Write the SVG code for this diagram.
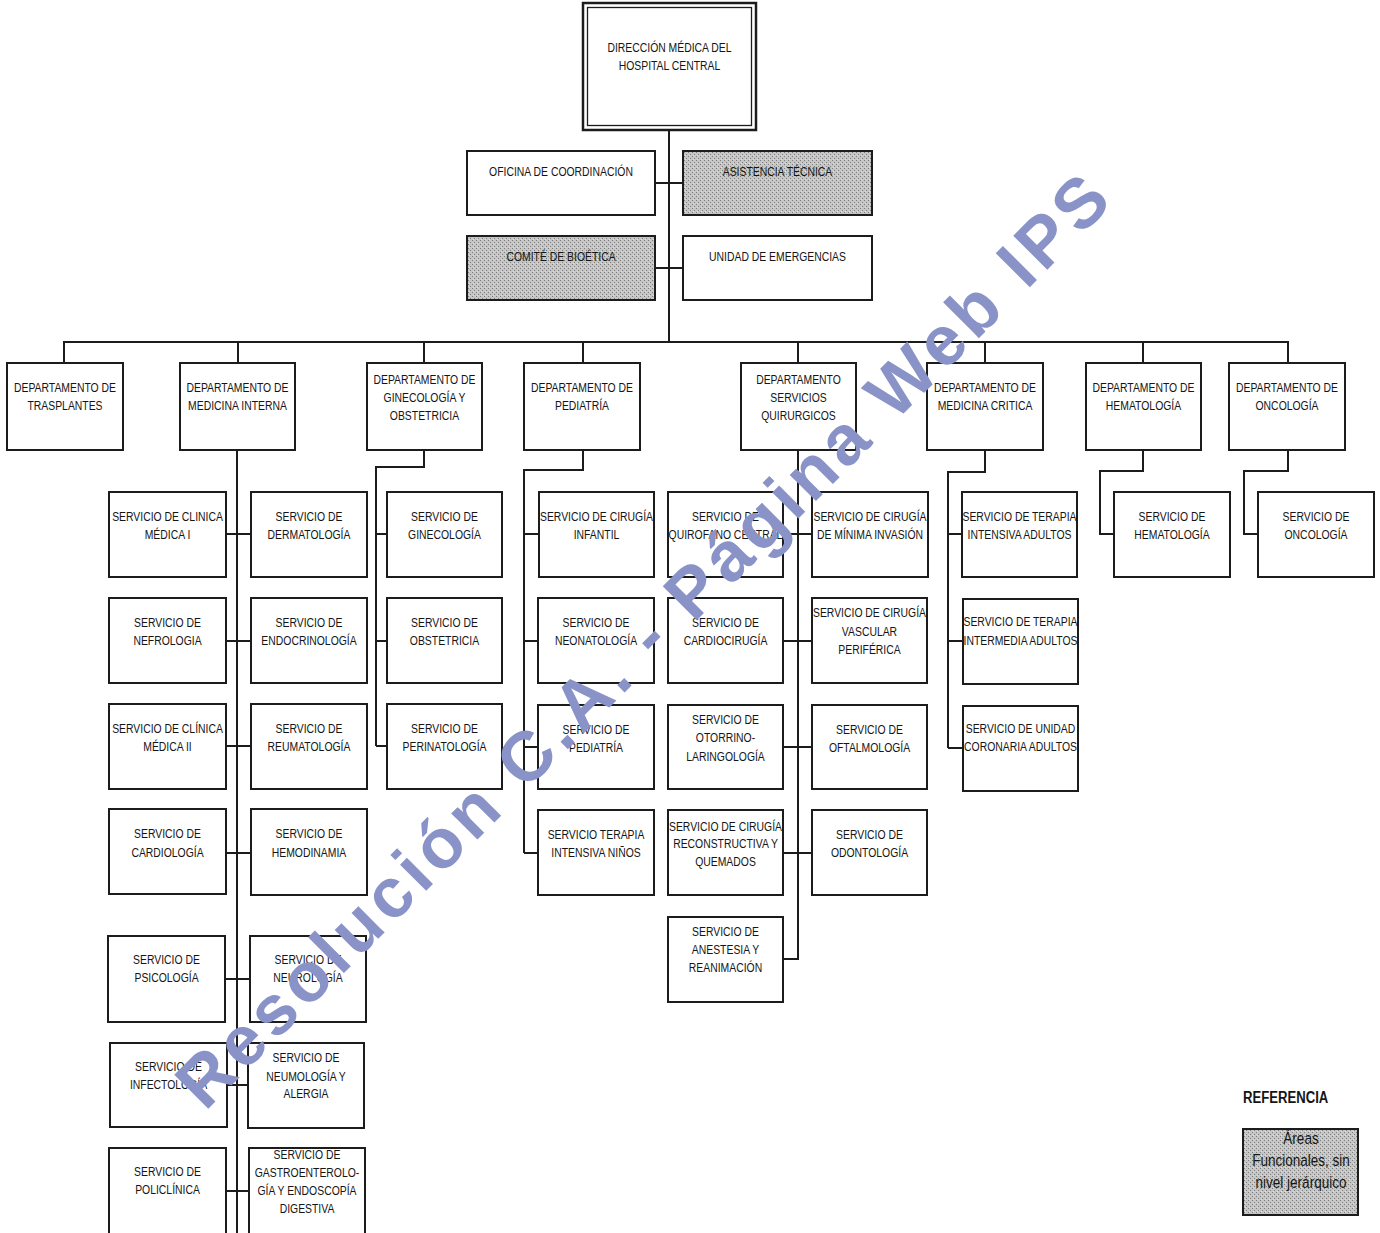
<svg xmlns="http://www.w3.org/2000/svg" width="1380" height="1233" viewBox="0 0 1380 1233">
<defs>
<pattern id="dots" patternUnits="userSpaceOnUse" width="4" height="4">
<rect width="4" height="4" fill="#c6c6c6"/>
<rect x="0" y="0" width="1" height="1" fill="#7c7c7c"/>
<rect x="2" y="2" width="1" height="1" fill="#7c7c7c"/>
<rect x="1" y="3" width="1" height="1" fill="#e0e0e0"/>
</pattern>
<style>
.b{fill:#fff;stroke:#1c1c1c;stroke-width:2}
.s{fill:url(#dots);stroke:#1c1c1c;stroke-width:2}
text{font-family:"Liberation Sans",Arial,sans-serif;font-size:13px;text-anchor:middle;fill:#151515}
.ln{fill:none;stroke:#1c1c1c;stroke-width:2}
.wm{font-weight:bold;font-size:70px;fill:#8a93c8;text-anchor:start}
.r{font-size:16.5px}
</style>
</defs>
<rect width="1380" height="1233" fill="#fff"/>

<g id="connectors">
<path class="ln" d="M669 130V342M655 183H683M655 268H683"/>
<path class="ln" d="M64 363V342H1288V363M238 342V363M424 342V363M583 342V363M798 342V363M985 342V363M1143 342V363"/>
<path class="ln" d="M237 450V1233M226 534H251M226 641H251M226 746H251M226 853H251M225 979H250M227 1085H248M226 1191H249"/>
<path class="ln" d="M424 450V467H376V746M376 534H387M376 641H387M376 746H387"/>
<path class="ln" d="M583 450V470H524V853M524 534H538M524 641H538M524 747H538M524 853H538"/>
<path class="ln" d="M798 450V959H783M783 534H812M783 641H812M783 747H812M783 853H812"/>
<path class="ln" d="M985 450V472H948V748M948 534H962M948 641H963M948 748H963"/>
<path class="ln" d="M1143 450V471H1100V534H1114"/>
<path class="ln" d="M1288 450V471H1244V534H1258"/>
</g>

<g id="direccion">
<rect x="583" y="3" width="173" height="127" fill="#fff" stroke="#1c1c1c" stroke-width="2.5"/>
<rect x="587.5" y="7.5" width="164" height="118" fill="none" stroke="#1c1c1c" stroke-width="1.3"/>
<g transform="translate(669.5 0) scale(0.8 1)"><text y="52.5">DIRECCIÓN MÉDICA DEL</text><text y="70.5">HOSPITAL CENTRAL</text></g>
</g>
<g id="oficina"><rect class="b" x="467" y="151" width="188" height="64"/><g transform="translate(561 0) scale(0.8 1)"><text y="176.5">OFICINA DE COORDINACIÓN</text></g></g>
<g id="asistencia"><rect class="s" x="683" y="151" width="189" height="64"/><g transform="translate(777.5 0) scale(0.8 1)"><text y="176.5">ASISTENCIA TÉCNICA</text></g></g>
<g id="bioetica"><rect class="s" x="467" y="236" width="188" height="64"/><g transform="translate(561 0) scale(0.8 1)"><text y="261.5">COMITÉ DE BIOÉTICA</text></g></g>
<g id="emergencias"><rect class="b" x="683" y="236" width="189" height="64"/><g transform="translate(777.5 0) scale(0.8 1)"><text y="261.5">UNIDAD DE EMERGENCIAS</text></g></g>

<g id="dep-trasplantes"><rect class="b" x="7" y="363" width="116" height="87"/><g transform="translate(65 0) scale(0.8 1)"><text y="392.5">DEPARTAMENTO DE</text><text y="410.5">TRASPLANTES</text></g></g>
<g id="dep-medint"><rect class="b" x="180" y="363" width="115" height="87"/><g transform="translate(237.5 0) scale(0.8 1)"><text y="392.5">DEPARTAMENTO DE</text><text y="410.5">MEDICINA INTERNA</text></g></g>
<g id="dep-gineco"><rect class="b" x="367" y="363" width="115" height="87"/><g transform="translate(424.5 0) scale(0.8 1)"><text y="384">DEPARTAMENTO DE</text><text y="402">GINECOLOGÍA Y</text><text y="420">OBSTETRICIA</text></g></g>
<g id="dep-pediatria"><rect class="b" x="524" y="363" width="116" height="87"/><g transform="translate(582 0) scale(0.8 1)"><text y="392.5">DEPARTAMENTO DE</text><text y="410.5">PEDIATRÍA</text></g></g>
<g id="dep-quirurgicos"><rect class="b" x="741" y="363" width="115" height="87"/><g transform="translate(798.5 0) scale(0.8 1)"><text y="384">DEPARTAMENTO</text><text y="402">SERVICIOS</text><text y="420">QUIRURGICOS</text></g></g>
<g id="dep-critica"><rect class="b" x="927" y="363" width="116" height="87"/><g transform="translate(985 0) scale(0.8 1)"><text y="392.5">DEPARTAMENTO DE</text><text y="410.5">MEDICINA CRITICA</text></g></g>
<g id="dep-hemato"><rect class="b" x="1086" y="363" width="115" height="87"/><g transform="translate(1143.5 0) scale(0.8 1)"><text y="392.5">DEPARTAMENTO DE</text><text y="410.5">HEMATOLOGÍA</text></g></g>
<g id="dep-onco"><rect class="b" x="1229" y="363" width="116" height="87"/><g transform="translate(1287 0) scale(0.8 1)"><text y="392.5">DEPARTAMENTO DE</text><text y="410.5">ONCOLOGÍA</text></g></g>

<g id="s-clinica1"><rect class="b" x="109" y="492" width="117" height="85"/><g transform="translate(167.5 0) scale(0.8 1)"><text y="521.5">SERVICIO DE CLINICA</text><text y="539.5">MÉDICA I</text></g></g>
<g id="s-dermato"><rect class="b" x="251" y="492" width="116" height="85"/><g transform="translate(309 0) scale(0.8 1)"><text y="521.5">SERVICIO DE</text><text y="539.5">DERMATOLOGÍA</text></g></g>
<g id="s-nefro"><rect class="b" x="109" y="598" width="117" height="85"/><g transform="translate(167.5 0) scale(0.8 1)"><text y="627.5">SERVICIO DE</text><text y="645.5">NEFROLOGIA</text></g></g>
<g id="s-endo"><rect class="b" x="251" y="598" width="116" height="85"/><g transform="translate(309 0) scale(0.8 1)"><text y="627.5">SERVICIO DE</text><text y="645.5">ENDOCRINOLOGÍA</text></g></g>
<g id="s-clinica2"><rect class="b" x="109" y="704" width="117" height="85"/><g transform="translate(167.5 0) scale(0.8 1)"><text y="733.5">SERVICIO DE CLÍNICA</text><text y="751.5">MÉDICA II</text></g></g>
<g id="s-reuma"><rect class="b" x="251" y="704" width="116" height="85"/><g transform="translate(309 0) scale(0.8 1)"><text y="733.5">SERVICIO DE</text><text y="751.5">REUMATOLOGÍA</text></g></g>
<g id="s-cardio"><rect class="b" x="109" y="809" width="117" height="85"/><g transform="translate(167.5 0) scale(0.8 1)"><text y="838.5">SERVICIO DE</text><text y="856.5">CARDIOLOGÍA</text></g></g>
<g id="s-hemodin"><rect class="b" x="251" y="809" width="116" height="86"/><g transform="translate(309 0) scale(0.8 1)"><text y="838.5">SERVICIO DE</text><text y="856.5">HEMODINAMIA</text></g></g>
<g id="s-psico"><rect class="b" x="108" y="936" width="117" height="86"/><g transform="translate(166.5 0) scale(0.8 1)"><text y="964.5">SERVICIO DE</text><text y="982.5">PSICOLOGÍA</text></g></g>
<g id="s-neuro"><rect class="b" x="250" y="936" width="116" height="86"/><g transform="translate(308 0) scale(0.8 1)"><text y="964.5">SERVICIO DE</text><text y="982.5">NEUROLOGÍA</text></g></g>
<g id="s-infecto"><rect class="b" x="110" y="1043" width="117" height="84"/><g transform="translate(168.5 0) scale(0.8 1)"><text y="1071.5">SERVICIO DE</text><text y="1089">INFECTOLOGÍA</text></g></g>
<g id="s-neumo"><rect class="b" x="248" y="1043" width="116" height="85"/><g transform="translate(306 0) scale(0.8 1)"><text y="1062.5">SERVICIO DE</text><text y="1081">NEUMOLOGÍA Y</text><text y="1098.5">ALERGIA</text></g></g>
<g id="s-policlinica"><rect class="b" x="109" y="1148" width="117" height="95"/><g transform="translate(167.5 0) scale(0.8 1)"><text y="1176.5">SERVICIO DE</text><text y="1194.5">POLICLÍNICA</text></g></g>
<g id="s-gastro"><rect class="b" x="249" y="1148" width="116" height="95"/><g transform="translate(307 0) scale(0.8 1)"><text y="1159.5">SERVICIO DE</text><text y="1177.5">GASTROENTEROLO-</text><text y="1195.5">GÍA Y ENDOSCOPÍA</text><text y="1213">DIGESTIVA</text></g></g>

<g id="s-gineco"><rect class="b" x="387" y="492" width="115" height="85"/><g transform="translate(444.5 0) scale(0.8 1)"><text y="521.5">SERVICIO DE</text><text y="539.5">GINECOLOGÍA</text></g></g>
<g id="s-obstetricia"><rect class="b" x="387" y="598" width="115" height="85"/><g transform="translate(444.5 0) scale(0.8 1)"><text y="627.5">SERVICIO DE</text><text y="645.5">OBSTETRICIA</text></g></g>
<g id="s-perinato"><rect class="b" x="387" y="704" width="115" height="85"/><g transform="translate(444.5 0) scale(0.8 1)"><text y="733.5">SERVICIO DE</text><text y="751.5">PERINATOLOGÍA</text></g></g>

<g id="s-cirinfantil"><rect class="b" x="539" y="492" width="115" height="85"/><g transform="translate(596.5 0) scale(0.8 1)"><text y="521.5">SERVICIO DE CIRUGÍA</text><text y="539.5">INFANTIL</text></g></g>
<g id="s-neonato"><rect class="b" x="538" y="598" width="116" height="85"/><g transform="translate(596 0) scale(0.8 1)"><text y="627.5">SERVICIO DE</text><text y="645.5">NEONATOLOGÍA</text></g></g>
<g id="s-pediatria"><rect class="b" x="538" y="705" width="116" height="84"/><g transform="translate(596 0) scale(0.8 1)"><text y="734">SERVICIO DE</text><text y="752">PEDIATRÍA</text></g></g>
<g id="s-tin"><rect class="b" x="538" y="810" width="116" height="85"/><g transform="translate(596 0) scale(0.8 1)"><text y="839">SERVICIO TERAPIA</text><text y="857">INTENSIVA NIÑOS</text></g></g>

<g id="s-quirofano"><rect class="b" x="668" y="492" width="115" height="85"/><g transform="translate(725.5 0) scale(0.8 1)"><text y="521.5">SERVICIO DE</text><text y="539.5">QUIROFANO CENTRAL</text></g></g>
<g id="s-minima"><rect class="b" x="812" y="492" width="116" height="85"/><g transform="translate(870 0) scale(0.8 1)"><text y="521.5">SERVICIO DE CIRUGÍA</text><text y="539.5">DE MÍNIMA INVASIÓN</text></g></g>
<g id="s-cardiocir"><rect class="b" x="668" y="598" width="115" height="85"/><g transform="translate(725.5 0) scale(0.8 1)"><text y="627.5">SERVICIO DE</text><text y="645.5">CARDIOCIRUGÍA</text></g></g>
<g id="s-vascular"><rect class="b" x="812" y="598" width="115" height="85"/><g transform="translate(869.5 0) scale(0.8 1)"><text y="617.5">SERVICIO DE CIRUGÍA</text><text y="636">VASCULAR</text><text y="654.5">PERIFÉRICA</text></g></g>
<g id="s-otorrino"><rect class="b" x="668" y="705" width="115" height="84"/><g transform="translate(725.5 0) scale(0.8 1)"><text y="724.5">SERVICIO DE</text><text y="742.5">OTORRINO-</text><text y="761">LARINGOLOGÍA</text></g></g>
<g id="s-oftalmo"><rect class="b" x="812" y="705" width="115" height="84"/><g transform="translate(869.5 0) scale(0.8 1)"><text y="734">SERVICIO DE</text><text y="752">OFTALMOLOGÍA</text></g></g>
<g id="s-reconstructiva"><rect class="b" x="668" y="810" width="115" height="85"/><g transform="translate(725.5 0) scale(0.8 1)"><text y="831">SERVICIO DE CIRUGÍA</text><text y="848.5">RECONSTRUCTIVA Y</text><text y="866">QUEMADOS</text></g></g>
<g id="s-odonto"><rect class="b" x="812" y="810" width="115" height="85"/><g transform="translate(869.5 0) scale(0.8 1)"><text y="839">SERVICIO DE</text><text y="857">ODONTOLOGÍA</text></g></g>
<g id="s-anestesia"><rect class="b" x="668" y="917" width="115" height="85"/><g transform="translate(725.5 0) scale(0.8 1)"><text y="936.5">SERVICIO DE</text><text y="954">ANESTESIA Y</text><text y="972">REANIMACIÓN</text></g></g>

<g id="s-tia"><rect class="b" x="962" y="492" width="115" height="85"/><g transform="translate(1019.5 0) scale(0.8 1)"><text y="521.5">SERVICIO DE TERAPIA</text><text y="539.5">INTENSIVA ADULTOS</text></g></g>
<g id="s-tima"><rect class="b" x="963" y="599" width="115" height="85"/><g transform="translate(1020.5 0) scale(0.8 1)"><text y="626.5">SERVICIO DE TERAPIA</text><text y="645">INTERMEDIA ADULTOS</text></g></g>
<g id="s-coronaria"><rect class="b" x="963" y="706" width="115" height="85"/><g transform="translate(1020.5 0) scale(0.8 1)"><text y="733.5">SERVICIO DE UNIDAD</text><text y="751.5">CORONARIA ADULTOS</text></g></g>
<g id="s-hemato"><rect class="b" x="1114" y="492" width="116" height="85"/><g transform="translate(1172 0) scale(0.8 1)"><text y="521.5">SERVICIO DE</text><text y="539.5">HEMATOLOGÍA</text></g></g>
<g id="s-onco"><rect class="b" x="1258" y="492" width="116" height="85"/><g transform="translate(1316 0) scale(0.8 1)"><text y="521.5">SERVICIO DE</text><text y="539.5">ONCOLOGÍA</text></g></g>

<g id="referencia">
<g transform="translate(1243 0) scale(0.82 1)"><text y="1103" style="text-anchor:start;font-weight:bold;font-size:16px">REFERENCIA</text></g>
<rect class="s" x="1243" y="1129" width="115" height="86"/>
<g transform="translate(1301 0) scale(0.82 1)"><text class="r" y="1144">Áreas</text><text class="r" y="1166">Funcionales, sin</text><text class="r" y="1188">nivel jerárquico</text></g>
</g>

<g id="watermark">
<text class="wm" transform="translate(205 1112) rotate(-45)" textLength="1285" lengthAdjust="spacing">Resolución C.A. - Página Web IPS</text>
</g>
</svg>
